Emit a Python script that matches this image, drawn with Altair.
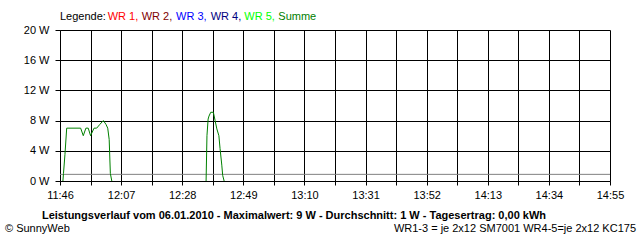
import json
import altair as alt
import pandas as pd

# ---------------- data ----------------
TIME_LABELS = ["11:46", "12:07", "12:28", "12:49", "13:10", "13:31",
               "13:52", "14:13", "14:34", "14:55"]          # every 21 min
Y_TICKS = [0, 4, 8, 12, 16, 20]

# "Summe" curve, minutes after 11:46 and watts (two production bursts)
SEG1_MIN = [1.0, 1.2, 1.7, 2.3, 7.1, 8.0, 8.9, 9.7, 10.5, 11.7, 12.6,
            13.7, 14.9, 15.8, 16.4, 16.9, 17.3, 17.8]
SEG1_W = [0, 1, 3.5, 7, 7, 6, 7, 7, 6, 7, 7, 7.5, 8, 7.5, 7, 5.5, 1, 0]
SEG2_MIN = [50.2, 50.5, 50.9, 51.2, 51.8, 52.7, 53.3, 53.9, 54.6, 55.0,
            55.6, 55.9, 56.4]
SEG2_W = [0, 6, 8.2, 8.6, 9.1, 9.1, 8, 6.9, 6, 4.3, 2.1, 0.75, 0]

AVERAGE_W = [0.88]

LEGEND_LABELS = ["WR 1,", "WR 2,", "WR 3,", "WR 4,", "WR 5,", "Summe"]
LEGEND_COLORS = ["#ff0000", "#800000", "#0000ff", "#000080", "#00ff00", "#008000"]

TITLE = ("Leistungsverlauf vom 06.01.2010 - Maximalwert: 9 W - "
         "Durchschnitt: 1 W - Tagesertrag: 0,00 kWh")
FOOT_LEFT = "© SunnyWeb"
FOOT_RIGHT = "WR1-3 = je 2x12 SM7001 WR4-5=je 2x12 KC175"

# ---------------- layout ----------------
TOTAL_MIN = 189
GRID_STEP = 10.5
LEGEND_X = [47.7, 81.7, 116, 150.7, 184.3, 218.3]
FONT = "Liberation Sans"

grid_vals = [i * GRID_STEP for i in range(int(TOTAL_MIN / GRID_STEP) + 1)]
grid_labels = []
for i in range(len(grid_vals)):
    grid_labels.append(TIME_LABELS[i // 2] if i % 2 == 0 else "")
label_expr = json.dumps(grid_labels).replace('"', "'") + "[round(datum.value/%s)]" % GRID_STEP

curve = pd.DataFrame({
    "min": SEG1_MIN + SEG2_MIN,
    "w": SEG1_W + SEG2_W,
    "seg": ["a"] * len(SEG1_MIN) + ["b"] * len(SEG2_MIN),
})

xscale = alt.Scale(domain=[0, TOTAL_MIN], nice=False, zero=False)
yscale = alt.Scale(domain=[0, 20], nice=False)

xaxis = alt.Axis(values=grid_vals, labelExpr=label_expr, title=None,
                 grid=True, gridColor="black", gridOpacity=1, gridWidth=1,
                 domainColor="black", tickColor="black", tickSize=4,
                 labelColor="black", labelFont=FONT, labelFontSize=11,
                 labelPadding=4, labelFlush=False, labelOverlap=False)
yaxis = alt.Axis(values=Y_TICKS, labelExpr="datum.value + ' W'", title=None,
                 grid=True, gridColor="black", gridOpacity=1, gridWidth=1,
                 domainColor="black", tickColor="black", tickSize=5,
                 labelColor="black", labelFont=FONT, labelFontSize=11,
                 labelPadding=6, labelOverlap=False, labelFlush=False)

base = alt.Chart(curve).mark_line(color="#008000", strokeWidth=1).encode(
    x=alt.X("min:Q", scale=xscale, axis=xaxis),
    y=alt.Y("w:Q", scale=yscale, axis=yaxis),
    detail="seg:N",
)

avg = alt.Chart(pd.DataFrame({"w": AVERAGE_W})).mark_rule(
    color="#808080", strokeWidth=1).encode(
    y=alt.Y("w:Q", scale=yscale, axis=yaxis),
)

legend_df = pd.DataFrame({"label": LEGEND_LABELS, "col": LEGEND_COLORS, "x": LEGEND_X})
legend_head = alt.Chart(pd.DataFrame({"t": ["Legende:"]})).mark_text(
    align="left", baseline="alphabetic", font=FONT, fontSize=11, color="black").encode(
    x=alt.value(0), y=alt.value(-10), text="t:N")
legend = alt.Chart(legend_df).mark_text(
    align="left", baseline="alphabetic", font=FONT, fontSize=11).encode(
    x=alt.X("x:Q", scale=None),
    y=alt.value(-10),
    color=alt.Color("col:N", scale=None),
    text="label:N",
)

title = alt.Chart(pd.DataFrame({"t": [TITLE]})).mark_text(
    align="center", baseline="middle", font=FONT, fontSize=11,
    fontWeight="bold", color="black").encode(
    x=alt.value(234), y=alt.value(186), text="t:N")
foot_l = alt.Chart(pd.DataFrame({"t": [FOOT_LEFT]})).mark_text(
    align="left", baseline="middle", font=FONT, fontSize=11, color="black").encode(
    x=alt.value(-55), y=alt.value(199), text="t:N")
foot_r = alt.Chart(pd.DataFrame({"t": [FOOT_RIGHT]})).mark_text(
    align="right", baseline="middle", font=FONT, fontSize=11, color="black").encode(
    x=alt.value(576), y=alt.value(199), text="t:N")

chart = alt.layer(avg, base, legend_head, legend, title, foot_l, foot_r).properties(
    width=550, height=151,
    autosize=alt.AutoSizeParams(type="none"),
    padding={"left": 60, "top": 30, "right": 30, "bottom": 59},
    background="white",
).configure_view(strokeWidth=0)

chart.save("out.html", embed_options={"renderer": "svg", "actions": False})
